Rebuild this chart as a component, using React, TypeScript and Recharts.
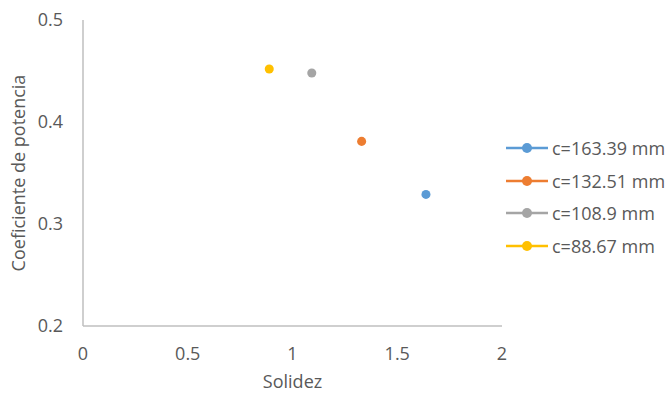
import { ScatterChart, Scatter, XAxis, YAxis, ZAxis, Legend, Label } from 'recharts';

const seriesNames = ['c=163.39 mm', 'c=132.51 mm', 'c=108.9 mm', 'c=88.67 mm'];
const seriesColors = ['#5B9BD5', '#ED7D31', '#A5A5A5', '#FFC000'];
const solidez = [1.637, 1.33, 1.092, 0.889];
const coeficiente = [0.329, 0.381, 0.448, 0.452];

const xTicks = [0, 0.5, 1, 1.5, 2];
const yTicks = [0.2, 0.3, 0.4, 0.5];

const FONT = '"Open Sans", sans-serif';
const TEXT = '#595959';
const AXIS = '#BFBFBF';

function LegendContent() {
  return (
    <div style={{ fontFamily: FONT, fontSize: 18, color: TEXT }}>
      {seriesNames.map((name, i) => (
        <div key={name} style={{ display: 'flex', alignItems: 'center', height: 32.5 }}>
          <svg width={44} height={12} style={{ marginRight: 3 }}>
            <line x1={1} y1={6} x2={43} y2={6} stroke={seriesColors[i]} strokeWidth={2.5} />
            <circle cx={22} cy={6} r={5} fill={seriesColors[i]} />
          </svg>
          <span>{name}</span>
        </div>
      ))}
    </div>
  );
}

export default function App() {
  const series = seriesNames.map((name, i) => ({
    name,
    color: seriesColors[i],
    data: [{ x: solidez[i], y: coeficiente[i] }],
  }));

  return (
    <div style={{ position: 'absolute', left: 0, top: 0, background: '#fff' }}>
      <ScatterChart width={670} height={394} margin={{ top: 20, right: 3, bottom: 0, left: 0 }}>
        <XAxis
          type="number"
          dataKey="x"
          domain={[0, 2]}
          ticks={xTicks}
          height={68}
          axisLine={{ stroke: AXIS, strokeWidth: 1.5 }}
          tickLine={false}
          tickSize={6}
          tickMargin={15}
          tick={{ fill: TEXT, fontSize: 18, fontFamily: FONT }}
        >
          <Label
            content={({ viewBox }: any) => (
              <text
                x={viewBox.x + viewBox.width / 2}
                y={viewBox.y + 62}
                textAnchor="middle"
                fill={TEXT}
                fontSize={18}
                fontFamily={FONT}
              >
                Solidez
              </text>
            )}
          />
        </XAxis>
        <YAxis
          type="number"
          dataKey="y"
          domain={[0.2, 0.5]}
          ticks={yTicks}
          width={83}
          axisLine={{ stroke: AXIS, strokeWidth: 1.5 }}
          tickLine={false}
          tickSize={6}
          tickMargin={14}
          tick={{ fill: TEXT, fontSize: 18, fontFamily: FONT }}
        >
          <Label
            content={({ viewBox }: any) => {
              const cx = viewBox.x + 18;
              const cy = viewBox.y + viewBox.height / 2;
              return (
                <text
                  x={cx}
                  y={cy}
                  transform={`rotate(-90 ${cx} ${cy})`}
                  textAnchor="middle"
                  dominantBaseline="central"
                  fill={TEXT}
                  fontSize={18}
                  fontFamily={FONT}
                >
                  Coeficiente de potencia
                </text>
              );
            }}
          />
        </YAxis>
        <ZAxis range={[100, 100]} />
        <Legend
          layout="vertical"
          align="right"
          verticalAlign="top"
          content={<LegendContent />}
          wrapperStyle={{ left: 505, top: 132, width: 165 }}
        />
        {series.map((s) => (
          <Scatter
            key={s.name}
            name={s.name}
            data={s.data}
            fill={s.color}
            isAnimationActive={false}
          />
        ))}
      </ScatterChart>
    </div>
  );
}
